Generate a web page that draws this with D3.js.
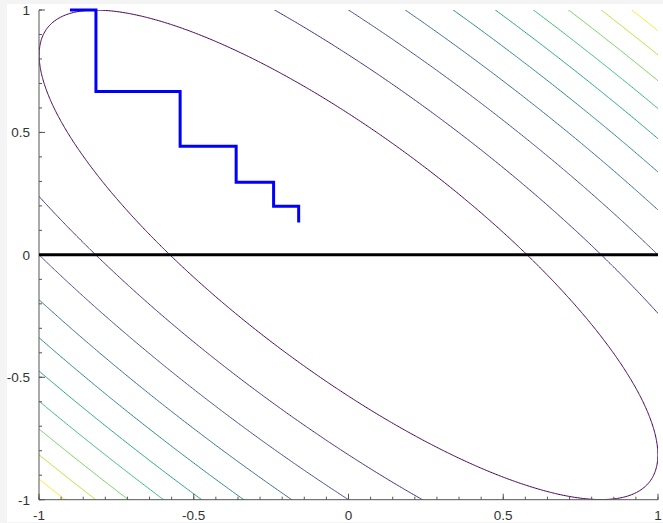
<!DOCTYPE html>
<meta charset="utf-8">
<style>
body{
  margin: 0px;
  background: #f4f4f4;
  font-family: "Liberation Sans", Arial, Helvetica, sans-serif;
}
svg{
  display: block;
}
.tick-label{
  font-size: 13.5px;
  fill: #333;
}
</style>
<body>
<div id='graph'></div>

<script src="https://cdn.jsdelivr.net/npm/d3@7"></script>
<script>

// quadratic form f(x,y) = a*x^2 + b*x*y + c*y^2
var formCoef = [1, 1.633, 1]
var levels = [0.333, 0.667, 1, 1.333, 1.667, 2, 2.333, 2.667, 3, 3.333]

// coordinate descent path
var pathX = [-0.9, -0.816, -0.816, -0.544, -0.544, -0.363, -0.363, -0.242, -0.242, -0.161, -0.161]
var pathY = [1, 1, 0.667, 0.667, 0.444, 0.444, 0.296, 0.296, 0.198, 0.198, 0.132]

// horizontal reference line
var baseX = [-1, 1]
var baseY = [0, 0]

var tickValues = [-1, -0.5, 0, 0.5, 1]
var tickLabels = ['-1', '-0.5', '0', '0.5', '1']

var width = 663, height = 523
var plotLeft = 39, plotRight = 658, plotTop = 10, plotBottom = 499.7

var x = d3.scaleLinear().domain([-1, 1]).range([plotLeft, plotRight])
var y = d3.scaleLinear().domain([-1, 1]).range([plotBottom, plotTop])

var svg = d3.select('#graph').append('svg')
    .attr('width', width)
    .attr('height', height)

svg.append('rect')
    .attr('x', 7).attr('y', 4)
    .attr('width', width - 7).attr('height', 518)
    .attr('fill', 'white')

svg.append('clipPath').attr('id', 'plot-clip')
  .append('rect')
    .attr('x', plotLeft).attr('y', plotTop)
    .attr('width', plotRight - plotLeft).attr('height', plotBottom - plotTop)

// sample the field on a grid a bit larger than the view, then clip
var g0 = -1.2, step = 0.005
var n = Math.round(2.4 / step) + 1
var values = new Array(n * n)
for (var j = 0; j < n; j++){
  for (var i = 0; i < n; i++){
    var gx = g0 + i * step, gy = g0 + j * step
    values[j * n + i] = formCoef[0]*gx*gx + formCoef[1]*gx*gy + formCoef[2]*gy*gy
  }
}

var contours = d3.contours().size([n, n]).thresholds(levels)(values)

var toScreen = d3.geoTransform({
  point: function(px, py){
    this.stream.point(x(g0 + (px - 0.5) * step), y(g0 + (py - 0.5) * step))
  }
})
var geoPath = d3.geoPath(toScreen)

var color = function(i){ return d3.interpolateViridis(i / (levels.length - 1)) }

svg.append('g')
    .attr('clip-path', 'url(#plot-clip)')
  .selectAll('path')
  .data(contours)
  .enter().append('path')
    .attr('d', geoPath)
    .attr('fill', 'none')
    .attr('stroke', function(d, i){ return color(i) })
    .attr('stroke-width', 1)

// axes (left and bottom only, ticks pointing inward)
var axisColor = '#555'
var ax = svg.append('g')

ax.append('line')
    .attr('x1', plotLeft).attr('x2', plotRight)
    .attr('y1', plotBottom).attr('y2', plotBottom)
    .attr('stroke', axisColor)
ax.append('line')
    .attr('x1', plotLeft).attr('x2', plotLeft)
    .attr('y1', plotTop).attr('y2', plotBottom)
    .attr('stroke', axisColor)

var minorX = d3.range(0, 29).map(function(k){ return -1 + k / 14 })
var minorY = d3.range(0, 21).map(function(k){ return -1 + k / 10 })

ax.selectAll('.mx').data(minorX).enter().append('line')
    .attr('x1', function(d){ return x(d) }).attr('x2', function(d){ return x(d) })
    .attr('y1', plotBottom).attr('y2', plotBottom - 3)
    .attr('stroke', axisColor)
ax.selectAll('.my').data(minorY).enter().append('line')
    .attr('y1', function(d){ return y(d) }).attr('y2', function(d){ return y(d) })
    .attr('x1', plotLeft).attr('x2', plotLeft + 3)
    .attr('stroke', axisColor)

ax.selectAll('.tx').data(tickValues).enter().append('line')
    .attr('x1', function(d){ return x(d) }).attr('x2', function(d){ return x(d) })
    .attr('y1', plotBottom).attr('y2', plotBottom - 6)
    .attr('stroke', axisColor)
ax.selectAll('.ty').data(tickValues).enter().append('line')
    .attr('y1', function(d){ return y(d) }).attr('y2', function(d){ return y(d) })
    .attr('x1', plotLeft).attr('x2', plotLeft + 6)
    .attr('stroke', axisColor)

ax.selectAll('.lx').data(tickValues).enter().append('text')
    .attr('class', 'tick-label')
    .attr('x', function(d){ return x(d) })
    .attr('y', 519.5)
    .attr('text-anchor', 'middle')
    .text(function(d, i){ return tickLabels[i] })
ax.selectAll('.ly').data(tickValues).enter().append('text')
    .attr('class', 'tick-label')
    .attr('x', plotLeft - 9)
    .attr('y', function(d){ return y(d) + 5 })
    .attr('text-anchor', 'end')
    .text(function(d, i){ return tickLabels[i] })

var line = d3.line()
    .x(function(d){ return x(d[0]) })
    .y(function(d){ return y(d[1]) })

svg.append('path')
    .attr('d', line(d3.zip(baseX, baseY)))
    .attr('fill', 'none')
    .attr('stroke', 'black')
    .attr('stroke-width', 3)

svg.append('path')
    .attr('d', line(d3.zip(pathX, pathY)))
    .attr('fill', 'none')
    .attr('stroke', '#0000ff')
    .attr('stroke-width', 3)
    .attr('stroke-linejoin', 'miter')

</script>
